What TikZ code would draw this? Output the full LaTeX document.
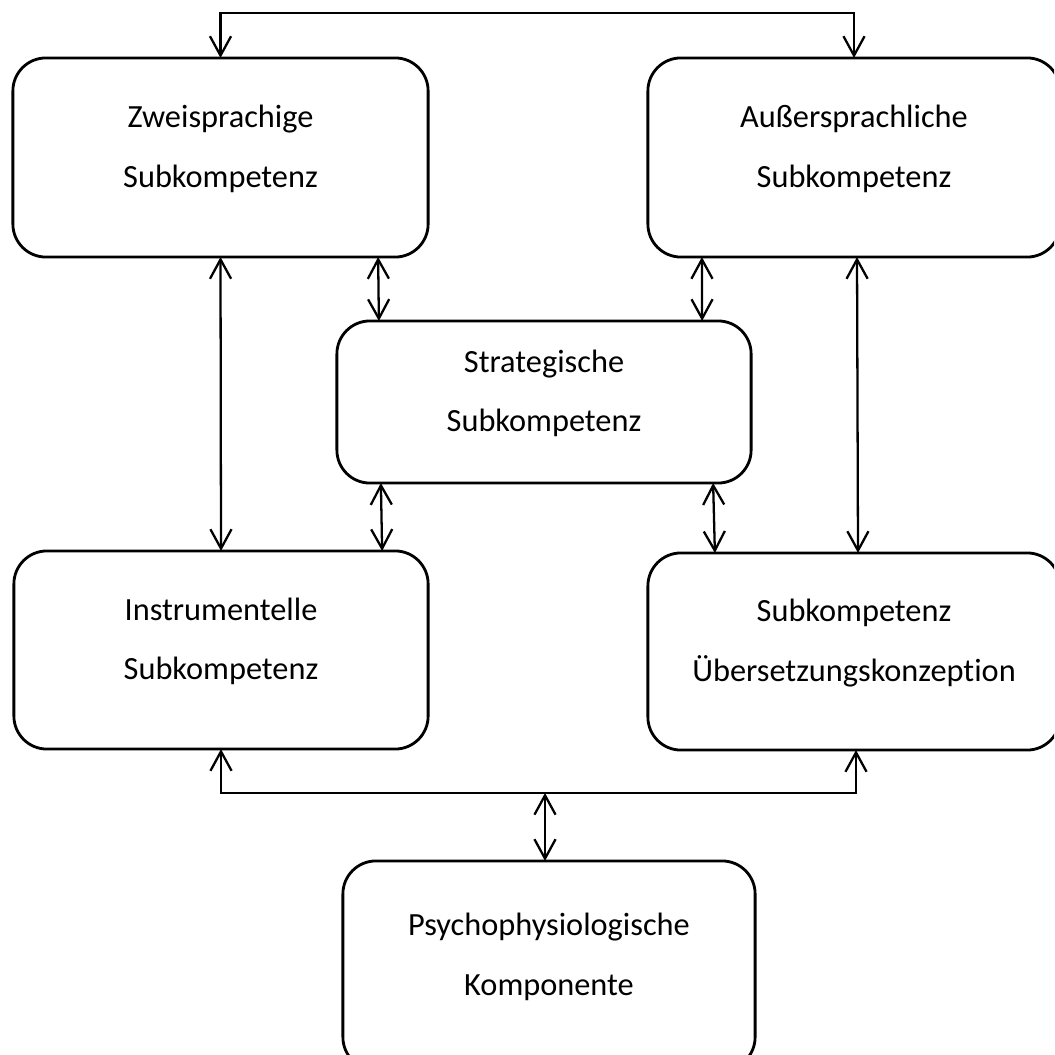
\documentclass[tikz,border=0pt]{standalone}
\usepackage{fontspec}
\setmainfont{Carlito}[Ligatures=NoCommon]
\usetikzlibrary{arrows.meta,calc}

\begin{document}
\begin{tikzpicture}[x=0.01cm,y=-0.01cm,
  komp/.style={draw,line width=0.8pt,rounded corners=0.33cm,outer sep=0pt,
    align=center,font=\fontsize{9.2pt}{16.8pt}\selectfont,
    text height=19.8pt,text depth=3pt},
  verb/.style={line width=0.65pt,
    {Straight Barb[length=5.5pt,width=6pt]}-{Straight Barb[length=5.5pt,width=6pt]}}]
\clip (0,0) rectangle (1054,1055);
% Kompetenzen
\node[komp,minimum width=4.15cm,minimum height=1.99cm] (zwei) at (220.5,157.5) {Zweisprachige\\Subkompetenz};
\node[komp,minimum width=4.12cm,minimum height=1.99cm] (ausser) at (854,157.5) {Außersprachliche\\Subkompetenz};
\node[komp,minimum width=4.14cm,minimum height=1.62cm] (strat) at (544,402) {Strategische\\Subkompetenz};
\node[komp,minimum width=4.14cm,minimum height=1.98cm] (instr) at (221,650) {Instrumentelle\\Subkompetenz};
\node[komp,minimum width=4.12cm,minimum height=1.97cm] (ueber) at (854,651.5) {Subkompetenz\\Übersetzungskonzeption};
\node[komp,minimum width=4.12cm,minimum height=2.09cm] (psycho) at (549,965.5) {Psychophysiologische\\Komponente};
% Verbindungen
\draw[verb] (zwei.north) -- ++(0,-45) -| (ausser.north);
\draw[verb] (zwei.south) -- (instr.north);
\draw[verb] ($(ausser.south)+(3,0)$) -- ($(ueber.north)+(4,0)$);
\draw[verb] ($(zwei.south east)+(-50,0)$) -- ($(strat.north west)+(42,0)$);
\draw[verb] ($(ausser.south west)+(54,0)$) -- ($(strat.north east)+(-49,0)$);
\draw[verb] ($(strat.south west)+(44,0)$) -- ($(instr.north east)+(-46,0)$);
\draw[verb] ($(strat.south east)+(-38,0)$) -- ($(ueber.north west)+(67,0)$);
\draw[verb] (instr.south) -- ++(0,44) -| ($(ueber.south)+(2,0)$);
\coordinate (bus) at ($(psycho.north)+(-4,-68)$);
\draw[verb] (bus) -- ($(psycho.north)+(-4,0)$);
\end{tikzpicture}
\end{document}
